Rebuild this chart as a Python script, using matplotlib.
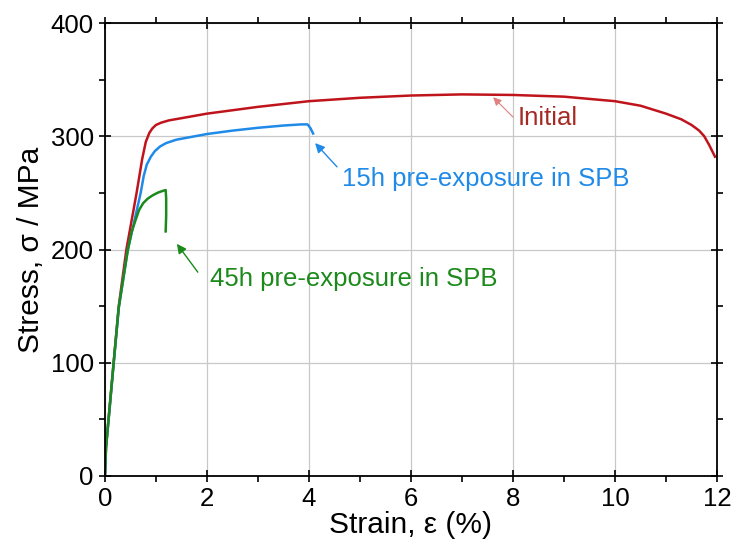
import matplotlib.pyplot as plt
from matplotlib.ticker import MultipleLocator

plt.rcParams['font.family'] = ['Liberation Sans', 'DejaVu Sans']

# strain (%) / stress (MPa)
initial_strain = [0, 0.01, 0.02, 0.07, 0.17, 0.27, 0.42, 0.62, 0.73, 0.8, 0.87, 0.93, 1.0,
                  1.1, 1.25, 1.5, 1.75, 2.0, 3.0, 4.0, 5.0, 6.0, 7.0, 8.0, 9.0, 10.0,
                  10.5, 11.0, 11.3, 11.5, 11.65, 11.75, 11.85, 11.96]
initial_stress = [0, 12, 25, 50, 100, 150, 200, 250, 280, 295, 303, 307, 310,
                  312, 314, 316, 318, 320, 326, 331, 334, 336, 337, 336.5, 335, 331,
                  327, 320, 315, 310, 305, 300, 292, 282]

h15_strain = [0, 0.01, 0.02, 0.07, 0.17, 0.27, 0.44, 0.70, 0.76, 0.82, 0.9, 0.98, 1.08,
              1.2, 1.4, 1.7, 2.0, 2.5, 3.0, 3.5, 3.85, 3.97, 4.0, 4.03, 4.08]
h15_stress = [0, 12, 25, 49, 99, 148, 198, 250, 265, 275, 282, 287, 291,
              294, 297, 299.5, 302, 305, 307.5, 309.5, 310.5, 310.5, 309, 307, 302.5]

h45_strain = [0, 0.01, 0.02, 0.07, 0.17, 0.27, 0.45, 0.52, 0.60, 0.67, 0.75, 0.84, 0.94,
              1.05, 1.15, 1.19, 1.20, 1.20, 1.19]
h45_stress = [0, 12, 25, 50, 100, 149, 200, 215, 226, 235, 241, 245, 248,
              250.5, 252, 252.5, 245, 230, 216]

red = '#c0141c'
blue = '#1f8ae8'
green = '#1b8a1b'

fig = plt.figure(figsize=(7.33, 5.49), dpi=100)
ax = fig.add_axes([0.1432, 0.133, 0.8350, 0.825])

ax.plot(initial_strain, initial_stress, color=red, lw=1.8)
ax.plot(h15_strain, h15_stress, color=blue, lw=1.8)
ax.plot(h45_strain, h45_stress, color=green, lw=1.8)

ax.set_xlim(0, 12)
ax.set_ylim(0, 400)
ax.xaxis.set_major_locator(MultipleLocator(2))
ax.xaxis.set_minor_locator(MultipleLocator(1))
ax.yaxis.set_major_locator(MultipleLocator(100))
ax.yaxis.set_minor_locator(MultipleLocator(50))
ax.grid(True, which='major', color='#c8c8c8', lw=0.9)
ax.set_axisbelow(True)
ax.tick_params(which='major', direction='inout', length=9, width=1.2, labelsize=18.5,
               top=True, right=True)
ax.tick_params(which='minor', direction='out', length=4, width=1.2, top=True, right=True)
for s in ax.spines.values():
    s.set_linewidth(1.3)

ax.set_xlabel('Strain, ε (%)', fontsize=21.5, labelpad=0)
ax.set_ylabel('Stress, σ / MPa', fontsize=21.5, labelpad=4)

# arrows and labels
ax.annotate('', xy=(7.61, 334.5), xytext=(8.0, 317),
            arrowprops=dict(arrowstyle='-|>', color='#e08080', lw=0.8, mutation_scale=12,
                            shrinkA=0, shrinkB=0))
ax.text(8.1, 310, 'Initial', color='#a52a24', fontsize=18.5, va='baseline', ha='left')

ax.annotate('', xy=(4.12, 294), xytext=(4.55, 273),
            arrowprops=dict(arrowstyle='-|>', color=blue, lw=1.0, mutation_scale=14,
                            shrinkA=0, shrinkB=0))
ax.text(4.65, 256, '15h pre-exposure in SPB', color=blue, fontsize=18.5,
        va='baseline', ha='left')

ax.annotate('', xy=(1.41, 205), xytext=(1.82, 180),
            arrowprops=dict(arrowstyle='-|>', color=green, lw=1.0, mutation_scale=14,
                            shrinkA=0, shrinkB=0))
ax.text(2.05, 168, '45h pre-exposure in SPB', color=green, fontsize=18.5,
        va='baseline', ha='left')

fig.savefig('out.png', dpi=100)
